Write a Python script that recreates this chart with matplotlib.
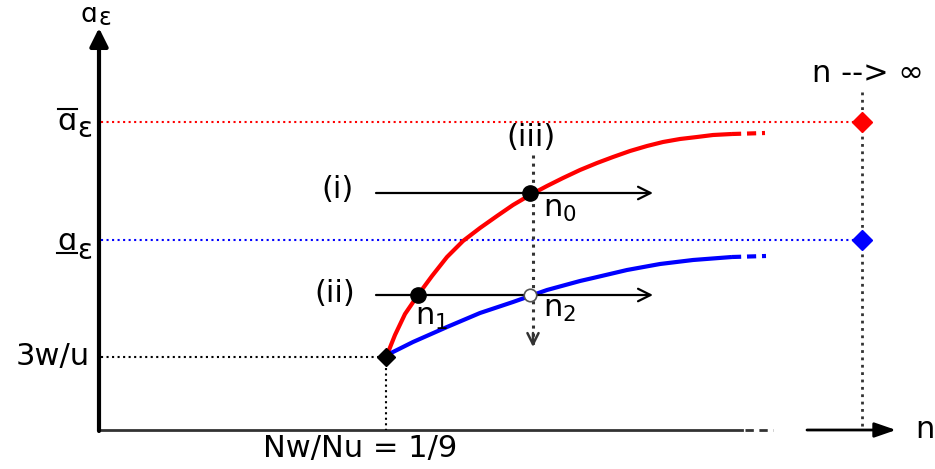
import numpy as np
import matplotlib.pyplot as plt

# schematic drawn in picture-pixel units (x to the right, y downward)
axis_x0, axis_y0 = 99, 430
top_arrow_tip = 28

# saturation levels (upper / lower) and starting level 3w/u
level_upper = 122
level_lower = 240
level_start = 357
n_start = 386
n_infty = 862

# red curve (upper) and blue curve (lower)
red_n = [387, 395, 405, 418, 432, 447, 463, 480, 497, 513, 530, 547, 563,
         580, 597, 613, 630, 647, 663, 680, 697, 713, 732]
red_a = [355, 335, 314, 295, 276, 257, 241, 228, 216, 205, 195, 186, 178,
         170, 163, 157, 151, 146, 142, 139, 137, 135, 134]
red_tail_n = [732, 765]
red_tail_a = [134, 133]

blue_n = [387, 413, 447, 480, 513, 530, 547, 580, 593, 627, 660, 693, 732]
blue_a = [355, 342, 327, 313, 302, 296, 290, 281, 278, 270, 264, 260, 257]
blue_tail_n = [732, 766]
blue_tail_a = [257, 256]

# horizontal test lines (i), (ii) and vertical (iii)
line_i = (376, 653, 193)
line_ii = (376, 653, 295)
line_iii = (533, 155, 347)

n0_pt = (530, 193)
n1_pt = (418, 295)
n2_pt = (530, 295)

FS = 22

fig = plt.figure(figsize=(9.35, 4.69), dpi=100)
ax = fig.add_axes([0, 0, 1, 1])
ax.set_xlim(0, 935)
ax.set_ylim(469, 0)
ax.axis('off')
plt.rcParams['mathtext.fontset'] = 'dejavusans'

# axes
ax.annotate('', xy=(axis_x0, top_arrow_tip), xytext=(axis_x0, axis_y0 + 1),
            arrowprops=dict(arrowstyle='-|>,head_length=1.1,head_width=0.55',
                            lw=3, color='black', shrinkA=0, shrinkB=0))
ax.plot([axis_x0, 742], [axis_y0, axis_y0], color='#333333', lw=2)
ax.plot([745, 773], [axis_y0, axis_y0], color='#333333', lw=2, ls=(0, (3, 2)))
ax.annotate('', xy=(896, axis_y0), xytext=(807, axis_y0),
            arrowprops=dict(arrowstyle='-|>,head_length=1.3,head_width=0.45',
                            lw=2, color='black', shrinkA=0, shrinkB=0))

# reference levels
ax.plot([axis_x0 + 2, n_infty], [level_upper, level_upper], color='red', lw=1.5, ls=':')
ax.plot([axis_x0 + 2, n_infty], [level_lower, level_lower], color='blue', lw=1.5, ls=':')
ax.plot([axis_x0 + 2, n_start], [level_start, level_start], color='black', lw=1.5, ls=':')
ax.plot([n_start, n_start], [level_start, axis_y0], color='black', lw=1.5, ls=':')
ax.plot([n_infty, n_infty], [92, axis_y0], color='#333333', lw=2, ls=':')

# curves
ax.plot(red_n, red_a, color='red', lw=3, solid_capstyle='butt', solid_joinstyle='round')
ax.plot(red_tail_n, red_tail_a, color='red', lw=3, ls=(0, (2.2, 1.4)))
ax.plot(blue_n, blue_a, color='blue', lw=3, solid_capstyle='butt', solid_joinstyle='round')
ax.plot(blue_tail_n, blue_tail_a, color='blue', lw=3, ls=(0, (2.2, 1.4)))

# test lines
for x0, x1, y in (line_i, line_ii):
    ax.annotate('', xy=(x1, y), xytext=(x0, y),
                arrowprops=dict(arrowstyle='->,head_length=0.9,head_width=0.45',
                                lw=1.6, color='black', shrinkA=0, shrinkB=0))
xv, yv0, yv1 = line_iii
ax.plot([xv, xv], [yv0, yv1 - 2], color='#333333', lw=2.2, ls=':')
ax.annotate('', xy=(xv, yv1), xytext=(xv, yv1 - 14),
            arrowprops=dict(arrowstyle='->,head_length=0.8,head_width=0.4',
                            lw=1.8, color='#333333', shrinkA=0, shrinkB=0))

# markers
ax.plot([n0_pt[0], n1_pt[0]], [n0_pt[1], n1_pt[1]], 'o', ms=11, color='black', zorder=5)
ax.plot([n2_pt[0]], [n2_pt[1]], 'o', ms=9, mfc='white', mec='#555555', mew=1.2, zorder=5)
ax.plot([n_start], [level_start], 'D', ms=9, color='black', zorder=5)
ax.plot([n_infty], [level_upper], 'D', ms=10, color='red', zorder=5)
ax.plot([n_infty], [level_lower], 'D', ms=10, color='blue', zorder=5)

# a_eps labels: letter, lowered epsilon, over/under bars
def alpha_eps(xc, base, drop, size, gap=18):
    ax.text(xc, base, 'ɑ', fontsize=size, ha='center', va='baseline')
    ax.text(xc + gap, base + drop, 'ε', fontsize=size - 2, ha='center', va='baseline')

alpha_eps(89, 22, 3, FS - 3, gap=16)
alpha_eps(67, 130, 7, FS)
ax.plot([58, 77], [109, 109], color='black', lw=1.5)
alpha_eps(67, 250, 9, FS)
ax.plot([57, 77], [253, 253], color='black', lw=1.5)

ax.text(53, 357, '3w/u', fontsize=FS, ha='center', va='center')
ax.text(360, 448, 'Nw/Nu = 1/9', fontsize=FS, ha='center', va='center')
ax.text(925, 430, 'n', fontsize=FS, ha='center', va='center')
ax.text(868, 74, 'n --> ∞', fontsize=FS, ha='center', va='center')
ax.text(338, 190, '(i)', fontsize=FS, ha='center', va='center')
ax.text(335, 294, '(ii)', fontsize=FS, ha='center', va='center')
ax.text(531, 137, '(iii)', fontsize=FS, ha='center', va='center')
ax.text(543, 210, r'n$_0$', fontsize=FS, ha='left', va='center')
ax.text(415, 318, r'n$_1$', fontsize=FS, ha='left', va='center')
ax.text(543, 310, r'n$_2$', fontsize=FS, ha='left', va='center')

fig.savefig('out.png', dpi=100)
